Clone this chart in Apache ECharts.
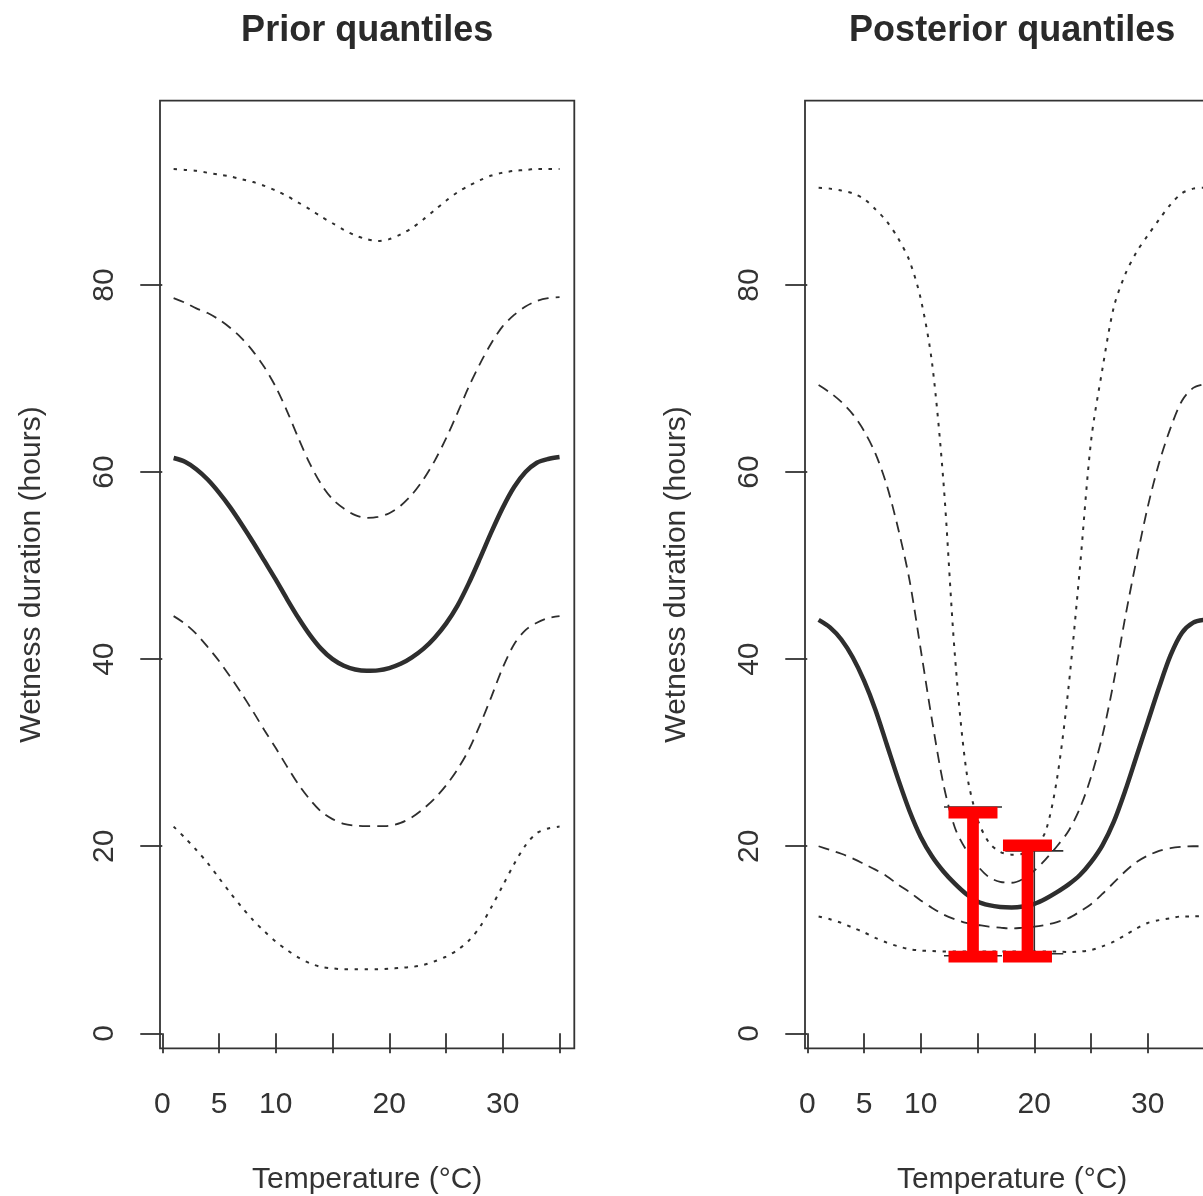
<!DOCTYPE html>
<html>
<head>
<meta charset="utf-8">
<title>Prior and posterior quantiles of wetness duration</title>
<script src="https://cdn.jsdelivr.net/npm/echarts@6/dist/echarts.min.js"></script>
<style>
  html, body { margin: 0; padding: 0; background: #ffffff; overflow: hidden; }
  #chart { width: 1203px; height: 1196px; }
</style>
</head>
<body>
<div id="chart"></div>
<script>
// Temperature grid (°C) at which the quantile curves are evaluated
const temps = [1, 2, 3, 4, 5, 6, 7, 8, 9, 10, 11, 12, 13, 14, 15, 16, 17, 18,
               19, 20, 21, 22, 23, 24, 25, 26, 27, 28, 29, 30, 31, 32, 33, 34, 35];

// Prior quantiles of wetness duration (hours)
const priorLow95 = [22.1, 20.9, 19.6, 18.2, 16.6, 15.0, 13.5, 12.1, 10.9, 9.8, 8.9, 8.1, 7.5, 7.1, 6.95, 6.85, 6.85, 6.85,
                    6.85, 6.9, 7.0, 7.1, 7.3, 7.7, 8.2, 8.9, 9.9, 11.4, 13.5, 15.8, 18.1, 20.1, 21.4, 21.9, 22.1];
const priorLow50 = [44.6, 43.8, 42.7, 41.3, 39.8, 38.1, 36.3, 34.4, 32.4, 30.5, 28.5, 26.6, 25.0, 23.7, 22.9, 22.4, 22.2, 22.15,
                    22.15, 22.2, 22.5, 23.1, 24.0, 25.1, 26.5, 28.2, 30.3, 33.0, 36.0, 39.1, 41.6, 43.1, 43.9, 44.4, 44.6];
const priorMedian = [61.5, 61.1, 60.3, 59.2, 57.8, 56.2, 54.4, 52.5, 50.5, 48.5, 46.4, 44.4, 42.6, 41.1, 40.0, 39.3, 38.9, 38.75,
                     38.8, 39.05, 39.5, 40.2, 41.1, 42.3, 43.8, 45.7, 48.1, 50.8, 53.6, 56.2, 58.4, 60.0, 61.0, 61.4, 61.6];
const priorUp50 = [78.6, 78.1, 77.5, 77.0, 76.3, 75.4, 74.3, 72.9, 71.2, 69.1, 66.5, 63.6, 60.9, 58.7, 57.1, 56.1, 55.4, 55.1,
                   55.2, 55.6, 56.4, 57.6, 59.2, 61.2, 63.6, 66.3, 69.1, 71.6, 73.8, 75.6, 76.8, 77.7, 78.3, 78.6, 78.7];
const priorUp95 = [92.4, 92.3, 92.2, 92.0, 91.8, 91.6, 91.3, 91.0, 90.6, 90.1, 89.5, 88.8, 88.1, 87.3, 86.6, 85.9, 85.3, 84.9,
                   84.7, 84.9, 85.4, 86.1, 87.0, 88.0, 89.0, 89.9, 90.6, 91.2, 91.7, 92.0, 92.2, 92.3, 92.4, 92.4, 92.4];

// Posterior quantiles of wetness duration (hours)
const postLow95 = [12.5, 12.2, 11.8, 11.3, 10.8, 10.2, 9.7, 9.3, 9.0, 8.85, 8.8, 8.75, 8.75, 8.75, 8.75, 8.75, 8.75, 8.75,
                   8.75, 8.75, 8.75, 8.75, 8.7, 8.75, 8.9, 9.3, 9.8, 10.5, 11.2, 11.8, 12.1, 12.3, 12.5, 12.5, 12.55];
const postLow50 = [20.0, 19.6, 19.2, 18.7, 18.1, 17.5, 16.8, 15.9, 15.1, 14.2, 13.4, 12.7, 12.2, 11.8, 11.6, 11.4, 11.3, 11.2,
                   11.3, 11.4, 11.6, 11.9, 12.3, 13.0, 13.8, 14.9, 16.1, 17.3, 18.3, 19.0, 19.5, 19.8, 19.95, 20.0, 20.0];
const postMedian = [44.2, 43.4, 42.1, 40.2, 37.7, 34.6, 30.9, 27.2, 23.8, 21.0, 18.9, 17.3, 16.0, 14.9, 14.1, 13.7, 13.5, 13.45,
                    13.55, 13.85, 14.4, 15.1, 15.9, 16.9, 18.3, 20.1, 22.6, 25.9, 29.6, 33.3, 37.0, 40.4, 42.8, 43.9, 44.2];
const postUp50 = [69.3, 68.5, 67.5, 66.2, 64.4, 62.0, 58.6, 54.0, 48.5, 41.0, 33.4, 26.6, 22.0, 19.6, 17.9, 16.7, 16.2, 16.1,
                  16.5, 17.4, 18.6, 20.0, 21.6, 24.0, 27.4, 31.8, 37.6, 44.4, 50.6, 56.3, 61.0, 64.7, 67.6, 69.0, 69.4];
const postUp95 = [90.4, 90.3, 90.1, 89.8, 89.2, 88.1, 86.8, 85.0, 82.6, 78.5, 71.6, 58.9, 40.5, 28.2, 22.9, 20.4, 19.4, 19.1,
                  19.2, 19.8, 21.6, 27.2, 36.8, 49.5, 63.3, 71.0, 77.6, 81.1, 83.5, 85.3, 87.0, 88.6, 89.8, 90.3, 90.4];

// Observed intervals [temperature, low, high] on the posterior panel
const observedBars = [[14.6, 8.3, 24.2], [20.0, 8.5, 19.5]];
// Highlighted intervals [temperature, low, high]
const highlightBars = [[14.6, 8.2, 23.6], [19.4, 8.2, 20.1]];

// Axis ticks and labels
const xTickValues = [0, 5, 10, 15, 20, 25, 30, 35];
const xLabelValues = [0, 5, 10, 20, 30];
const yTickValues = [0, 20, 40, 60, 80];

const panelTitles = ['Prior quantiles', 'Posterior quantiles'];
const xName = 'Temperature (°C)';
const yName = 'Wetness duration (hours)';

const FONT = '"Liberation Sans", Arial, Helvetica, sans-serif';
const INK = '#2e2e2e';

const pair = arr => temps.map((t, i) => [t, arr[i]]);

const solidStyle = { color: INK, width: 4.5, type: 'solid' };
const dashStyle = { color: INK, width: 1.8, type: [11, 7] };
const dotStyle = { color: INK, width: 2, type: [3.5, 6.5] };

function curve(idx, values, style) {
  return {
    type: 'line',
    xAxisIndex: idx,
    yAxisIndex: idx,
    data: pair(values),
    showSymbol: false,
    symbol: 'none',
    smooth: 0.3,
    lineStyle: style,
    silent: true,
    z: 2
  };
}

function renderObserved(params, api) {
  const top = api.coord([api.value(0), api.value(2)]);
  const bot = api.coord([api.value(0), api.value(1)]);
  const half = 29;
  const ls = { stroke: INK, lineWidth: 1.6 };
  return {
    type: 'group',
    children: [
      { type: 'line', shape: { x1: top[0], y1: top[1], x2: bot[0], y2: bot[1] }, style: ls },
      { type: 'line', shape: { x1: top[0] - half, y1: top[1], x2: top[0] + half, y2: top[1] }, style: ls },
      { type: 'line', shape: { x1: bot[0] - half, y1: bot[1], x2: bot[0] + half, y2: bot[1] }, style: ls }
    ]
  };
}

function renderHighlight(params, api) {
  const top = api.coord([api.value(0), api.value(2)]);
  const bot = api.coord([api.value(0), api.value(1)]);
  const capW = 49;
  const t = 11.7;
  const fill = { fill: '#ff0000' };
  return {
    type: 'group',
    children: [
      { type: 'rect', shape: { x: top[0] - t / 2, y: top[1], width: t, height: bot[1] - top[1] }, style: fill },
      { type: 'rect', shape: { x: top[0] - capW / 2, y: top[1] - t / 2, width: capW, height: t }, style: fill },
      { type: 'rect', shape: { x: bot[0] - capW / 2, y: bot[1] - t / 2, width: capW, height: t }, style: fill }
    ]
  };
}

const gridLefts = [160, 805];
const GRID_W = 414.3;
const GRID_TOP = 100.7;
const GRID_H = 947.6;

const grids = gridLefts.map(l => ({
  left: l, top: GRID_TOP, width: GRID_W, height: GRID_H,
  outerBoundsMode: 'none', containLabel: false,
  show: true, borderColor: '#333', borderWidth: 1.8, backgroundColor: 'transparent'
}));

const xAxes = gridLefts.map((l, i) => ({
  type: 'value', gridIndex: i, min: -0.2, max: 36.3,
  splitLine: { show: false },
  axisLine: { show: false },
  axisTick: { show: true, inside: false, length: 20, customValues: xTickValues,
              lineStyle: { color: '#333', width: 1.8 } },
  axisLabel: { show: true, customValues: xLabelValues, margin: 41,
               fontFamily: FONT, fontSize: 30, color: '#333' },
  name: xName, nameLocation: 'middle', nameGap: 116,
  nameTextStyle: { fontFamily: FONT, fontSize: 30, color: '#333' }
}));

const yAxes = gridLefts.map((l, i) => ({
  type: 'value', gridIndex: i, min: -1.6, max: 99.7,
  splitLine: { show: false },
  axisLine: { show: false },
  axisTick: { show: true, inside: false, length: 22, customValues: yTickValues,
              lineStyle: { color: '#333', width: 1.8 } },
  axisLabel: { show: true, customValues: yTickValues, rotate: 90, margin: 40,
               fontFamily: FONT, fontSize: 30, color: '#333' },
  name: yName, nameLocation: 'middle', nameGap: 113,
  nameTextStyle: { fontFamily: FONT, fontSize: 30, color: '#333' }
}));

const series = [
  curve(0, priorUp95, dotStyle),
  curve(0, priorUp50, dashStyle),
  curve(0, priorMedian, solidStyle),
  curve(0, priorLow50, dashStyle),
  curve(0, priorLow95, dotStyle),
  curve(1, postUp95, dotStyle),
  curve(1, postUp50, dashStyle),
  curve(1, postMedian, solidStyle),
  curve(1, postLow50, dashStyle),
  curve(1, postLow95, dotStyle),
  {
    type: 'custom', xAxisIndex: 1, yAxisIndex: 1,
    data: observedBars, encode: { x: 0, y: [1, 2] },
    renderItem: renderObserved, silent: true, z: 3
  },
  {
    type: 'custom', xAxisIndex: 1, yAxisIndex: 1,
    data: highlightBars, encode: { x: 0, y: [1, 2] },
    renderItem: renderHighlight, silent: true, z: 5
  }
];

const titles = gridLefts.map((l, i) => ({
  type: 'text',
  x: l + GRID_W / 2,
  y: 31,
  style: {
    text: panelTitles[i],
    font: 'bold 36px ' + FONT,
    fill: '#2a2a2a',
    textAlign: 'center',
    textVerticalAlign: 'middle'
  }
}));

const chart = echarts.init(document.getElementById('chart'), null, { renderer: 'canvas' });
chart.setOption({
  animation: false,
  backgroundColor: '#ffffff',
  grid: grids,
  xAxis: xAxes,
  yAxis: yAxes,
  series: series,
  graphic: titles
});
</script>
</body>
</html>
